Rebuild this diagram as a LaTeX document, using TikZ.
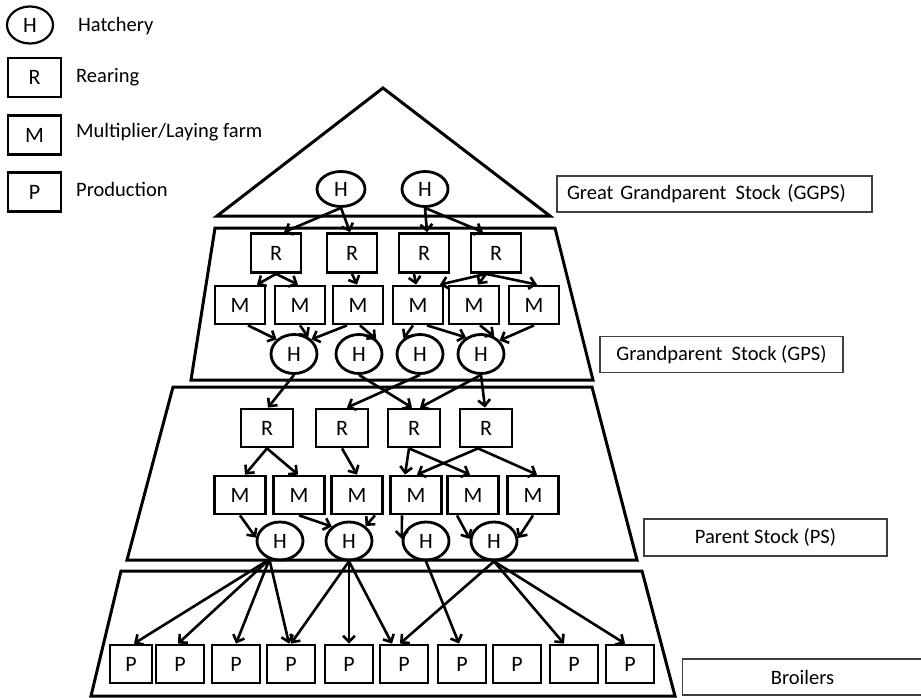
\documentclass[tikz,border=0pt]{standalone}
\usepackage{fontspec}
\setmainfont{Carlito}
\usetikzlibrary{arrows.meta,shapes.geometric,calc}
\begin{document}
\begin{tikzpicture}[x=1pt,y=-1pt,
  every node/.style={font=\fontsize{20.5}{24}\selectfont},
  sq/.style={draw, line width=2.8pt, minimum width=50pt, minimum height=38pt, inner sep=0pt, font=\fontsize{22}{24}\selectfont},
  hat/.style={draw, ellipse, line width=2.8pt, minimum width=46pt, minimum height=38pt, inner sep=0pt, font=\fontsize{22}{24}\selectfont},
  arr/.style={line width=2.6pt, -{Straight Barb[length=6pt,width=12pt]}},
  tier/.style={draw, line width=3pt, line join=miter},
  lab/.style={draw=black!75, line width=1.2pt, minimum height=36pt, inner sep=0pt},
  legtxt/.style={anchor=base west, inner sep=0pt},
  legsym/.style={line width=2.2pt, minimum width=53pt, minimum height=39pt}
]
\useasboundingbox (0,0) rectangle (921,698);

% legend
\node[hat, legsym, minimum width=46pt, minimum height=37pt] (lH) at (30,25) {H};
\node[sq, legsym] (lR) at (34.5,77.5) {R};
\node[sq, legsym] (lM) at (34.5,135) {M};
\node[sq, legsym] (lP) at (34.5,192) {P};
\node[legtxt] (tH) at (78,32) {Hatchery};
\node[legtxt] (tR) at (76,83) {Rearing};
\node[legtxt] (tM) at (76,138) {Multiplier/Laying farm};
\node[legtxt] (tP) at (76,196) {Production};

% tiers
\draw[tier] (383,88) -- (550,216) -- (217,216) -- cycle;
\draw[tier] (215,228) -- (555,228) -- (593,380) -- (191,380) -- cycle;
\draw[tier] (173,387) -- (592,387) -- (637,560) -- (127,560) -- cycle;
\draw[tier] (121,571) -- (642,571) -- (675,696) -- (91,696) -- cycle;

% GGPS
\node[hat, minimum width=48pt, minimum height=35pt] (g1) at (341,189) {H};
\node[hat, minimum width=46pt, minimum height=35pt] (g2) at (425,189) {H};

% GPS
\foreach \n/\x in {1/276,2/352,3/424,4/496}
  \node[sq, minimum height=39pt] (gr\n) at (\x,253) {R};
\foreach \n/\x in {1/240,2/300,3/358,4/418,5/474,6/534}
  \node[sq] (gm\n) at (\x,305) {M};
\foreach \n/\x in {1/294,2/359,3/420,4/481}
  \node[hat, minimum height=39pt] (gh\n) at (\x,354) {H};

% PS
\foreach \n/\x in {1/267,2/342,3/414,4/486}
  \node[sq, minimum width=52pt] (pr\n) at (\x,428) {R};
\foreach \n/\x in {1/240,2/299,3/357,4/416,5/473,6/533}
  \node[sq, minimum width=51pt] (pm\n) at (\x,495) {M};
\foreach \n/\x in {1/280,2/349,3/426,4/494}
  \node[hat] (ph\n) at (\x,541) {H};

% Broilers
\node[sq, minimum width=42pt] (p1) at (131,664) {P};
\foreach \n/\x in {2/180,3/236,4/291,5/349,6/404,7/462,8/517,9/574,10/630}
  \node[sq, minimum width=48pt] (p\n) at (\x,664) {P};

% labels
\node[lab, minimum width=315pt, text width=295pt, align=left] (lg1) at (714.5,194) {Great Grandparent\hspace{0.45em}Stock (GGPS)};
\node[lab, minimum width=243pt] (lg2) at (721.5,354.5) {Grandparent\hspace{0.45em}Stock (GPS)};
\node[lab, minimum width=243pt, minimum height=37pt] (lg3) at (765.5,537.5) {Parent Stock (PS)};
\node[lab, minimum width=240pt] (lg4) at (802.5,677) {Broilers};

% GGPS -> GPS R
\draw[arr] (g1.south) -- ($(gr1.north)+(8,0)$);
\draw[arr] (g1.south) -- ($(gr2.north)+(-2,0)$);
\draw[arr] (g2.south) -- ($(gr3.north)+(3,0)$);
\draw[arr] (g2.south) -- ($(gr4.north)+(-13,0)$);

% GPS R -> M
\draw[arr] (gr1.south) -- ($(gm1.north)+(17,0)$);
\draw[arr] (gr1.south) -- ($(gm2.north)+(-2,0)$);
\draw[arr] (gr2.south) -- ($(gm3.north)+(-1,0)$);
\draw[arr] ($(gr3.south)+(-10,0)$) -- ($(gm4.north)+(-2,0)$);
\draw[arr] ($(gr4.south)+(-10,0)$) -- ($(gm4.north)+(22,0)$);
\draw[arr] ($(gr4.south)+(-10,0)$) -- ($(gm5.north)+(4,0)$);
\draw[arr] ($(gr4.south)+(-10,0)$) -- ($(gm6.north)+(3,0)$);

% GPS M -> H
\draw[arr] ($(gm1.south)+(8,0)$) -- (gh1.140);
\draw[arr] (gm2.south) -- (gh1.50);
\draw[arr] ($(gm3.south)+(-11,0)$) -- (gh1.40);
\draw[arr] ($(gm3.south)+(2,0)$) -- (gh2.41);
\draw[arr] ($(gm4.south)+(-5,0)$) -- (gh3.137);
\draw[arr] ($(gm4.south)+(9,0)$) -- (gh4.132);
\draw[arr] ($(gm5.south)+(6,0)$) -- (gh4.53);
\draw[arr] (gm6.south) -- (gh4.36);

% GPS H -> PS R
\draw[arr] (gh1.south) -- ($(pr1.north)+(1,0)$);
\draw[arr] (gh2.south) -- ($(pr3.north)+(-2,0)$);
\draw[arr] (gh3.south) -- ($(pr2.north)+(5,0)$);
\draw[arr] (gh4.south) -- ($(pr3.north)+(6,0)$);
\draw[arr] (gh4.south) -- ($(pr4.north)+(-1,0)$);

% PS R -> M
\draw[arr] (pr1.south) -- ($(pm1.north)+(5,0)$);
\draw[arr] (pr1.south) -- ($(pm2.north)+(-1,0)$);
\draw[arr] (pr2.south) -- (pm3.north);
\draw[arr] ($(pr3.south)+(-5,0)$) -- ($(pm4.north)+(-11,0)$);
\draw[arr] ($(pr3.south)+(-5,0)$) -- ($(pm5.north)+(-3,0)$);
\draw[arr] ($(pr4.south)+(-8,0)$) -- ($(pm4.north)+(1,0)$);
\draw[arr] ($(pr4.south)+(-8,0)$) -- ($(pm6.north)+(4,0)$);

% PS M -> H
\draw[arr] (pm1.south) -- (ph1.172);
\draw[arr] (pm2.south) -- (ph2.140);
\draw[arr] ($(pm3.south)+(18,0)$) -- (ph2.42);
\draw[arr] ($(pm4.south)+(-14,0)$) -- (ph3.175);
\draw[arr] ($(pm5.south)+(-16,0)$) -- (ph4.175);
\draw[arr] (pm6.south) -- (ph4.7);

% PS H -> P
\draw[arr] (ph1.240) -- ($(p1.north)+(3,0)$);
\draw[arr] (ph1.240) -- ($(p2.north)+(-2,0)$);
\draw[arr] (ph1.240) -- (p3.north);
\draw[arr] (ph1.240) -- ($(p4.north)+(-2,0)$);
\draw[arr] (ph2.south) -- (p4.north);
\draw[arr] (ph2.south) -- (p5.north);
\draw[arr] (ph2.south) -- ($(p6.north)+(-12,0)$);
\draw[arr] (ph3.south) -- ($(p7.north)+(-3,0)$);
\draw[arr] (ph4.south) -- ($(p6.north)+(-4,0)$);
\draw[arr] (ph4.south) -- ($(p9.north)+(-10,0)$);
\draw[arr] (ph4.south) -- ($(p10.north)+(-5,0)$);
\end{tikzpicture}
\end{document}
